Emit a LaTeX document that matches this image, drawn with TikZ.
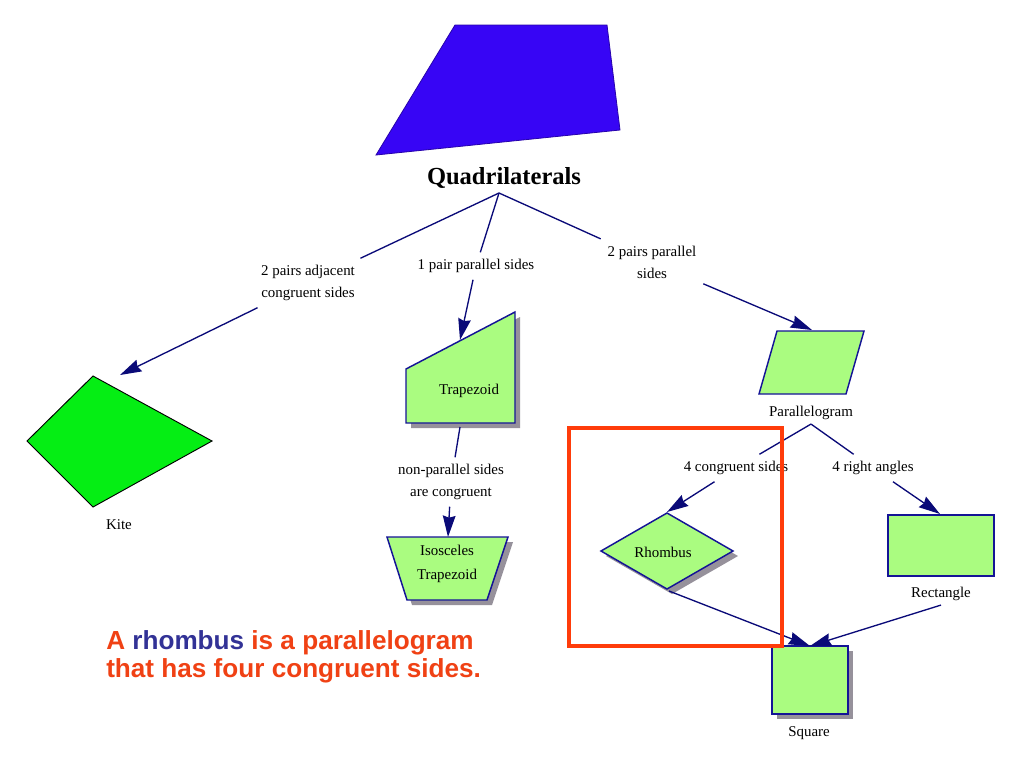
\documentclass[tikz,border=0pt]{standalone}
\usepackage{fontspec}
\setmainfont{Liberation Serif}
\newfontfamily\notefont{Liberation Sans}
\usetikzlibrary{arrows.meta}
\definecolor{navy}{RGB}{10,10,120}
\definecolor{shapeedge}{RGB}{20,20,150}
\definecolor{lightgreen}{RGB}{170,252,128}
\definecolor{kitegreen}{RGB}{5,238,20}
\definecolor{quadblue}{RGB}{55,5,245}
\definecolor{boxred}{RGB}{255,60,10}
\definecolor{notered}{RGB}{240,65,20}
\definecolor{noteblue}{RGB}{50,50,150}
\definecolor{shadowgray}{RGB}{150,145,155}
\begin{document}
\begin{tikzpicture}[x=0.75pt,y=-0.75pt,
  lbl/.style={font=\fontsize{11.2}{16.5}\selectfont, align=center, inner sep=5pt},
  namelbl/.style={font=\fontsize{11.2}{16.5}\selectfont, inner sep=3pt},
  conn/.style={draw=navy, line width=1pt},
  arr/.style={conn, -{Stealth[length=16pt,width=9.5pt,inset=1.5pt]}},
  shapebox/.style={fill=lightgreen, draw=shapeedge, line width=1.1pt, line join=miter},
  shadowbox/.style={fill=shadowgray, draw=none},
  notestyle/.style={font=\notefont\bfseries\fontsize{19.6}{22}\selectfont, text=notered, anchor=base west, inner sep=0pt}]

\fill[white] (0,0) rectangle (1024,768);
\useasboundingbox (0,0) rectangle (1024,768);

% big quadrilateral
\filldraw[fill=quadblue, draw=quadblue!70!black, line width=0.6pt] (455,25) -- (607,25) -- (620,130) -- (376,155) -- cycle;
\node[font=\bfseries\fontsize{18.4}{20}\selectfont, inner sep=1pt] (quad) at (504,178) {Quadrilaterals};
\coordinate (apex) at (499,193);

% kite
\filldraw[fill=kitegreen, draw=black, line width=0.7pt] (93,376) -- (212,441) -- (93,507) -- (27,441) -- cycle;
\node[namelbl] (kitelbl) at (119,525) {Kite};
\coordinate (kitetip) at (120,375);

% trapezoid
\fill[shadowbox] (411,374) -- (520,317) -- (520,428) -- (411,428) -- cycle;
\filldraw[shapebox] (406,369) -- (515,312) -- (515,423) -- (406,423) -- cycle;
\node[namelbl] (trap) at (469,391) {Trapezoid};
\coordinate (traptip) at (460,340);
\coordinate (trapbot) at (460,427);

% isosceles trapezoid
\fill[shadowbox] (392,542) -- (513,542) -- (492,605) -- (412,605) -- cycle;
\filldraw[shapebox] (387,537) -- (508,537) -- (487,600) -- (407,600) -- cycle;
\node[namelbl, align=center, font=\fontsize{11.2}{18.5}\selectfont] (iso) at (447,564) {Isosceles\\Trapezoid};
\coordinate (isotip) at (448,537);

% parallelogram
\filldraw[shapebox] (777,331) -- (864,331) -- (846,394) -- (759,394) -- cycle;
\node[namelbl] (plgm) at (811,413) {Parallelogram};
\coordinate (plgmtip) at (812,330);

% rhombus
\fill[shadowbox] (672,518) -- (738,556) -- (672,594) -- (606,556) -- cycle;
\filldraw[shapebox] (667,513) -- (733,551) -- (667,589) -- (601,551) -- cycle;
\node[namelbl] (rhomb) at (663,552) {Rhombus};
\coordinate (rhombtip) at (667,512);
\coordinate (rhombbot) at (669,591);

% rectangle
\filldraw[shapebox] (888,515) rectangle (994,576);
\node[namelbl] (rect) at (941,594) {Rectangle};
\coordinate (recttip) at (940,514);

% square
\fill[shadowbox] (777,651) rectangle (853,719);
\filldraw[shapebox] (772,646) rectangle (848,714);
\node[namelbl] (sq) at (809,733) {Square};
\coordinate (sqtip) at (810,646);

% edge labels
\node[lbl] (l1) at (308,283) {2 pairs adjacent\\congruent sides};
\node[lbl] (l2) at (476,266) {1 pair parallel sides};
\node[lbl] (l3) at (652,262) {2 pairs parallel\\sides};
\node[lbl] (l4) at (451,482) {non-parallel sides\\are congruent};
\node[lbl] (l5) at (736,468) {4 congruent sides};
\node[lbl] (l6) at (873,468) {4 right angles};

% connectors
\draw[conn] (apex) -- (l1);
\draw[arr] (l1) -- (kitetip);
\draw[conn] (apex) -- (l2);
\draw[arr] (l2) -- (traptip);
\draw[conn] (apex) -- (l3);
\draw[arr] (l3) -- (plgmtip);
\draw[conn] (trapbot) -- (l4);
\draw[arr] (l4) -- (isotip);
\draw[conn] (plgm.south) -- (l5);
\draw[arr] (l5) -- (rhombtip);
\draw[conn] (plgm.south) -- (l6);
\draw[arr] (l6) -- (recttip);
\draw[arr] (rhombbot) -- (sqtip);
\draw[arr] (rect.south) -- (sqtip);

% highlight box
\draw[boxred, line width=3.6pt] (569,428) rectangle (782,646);

% note
\node[notestyle] (note1) at (106,649) {A \textcolor{noteblue}{rhombus} is a parallelogram};
\node[notestyle] (note2) at (106,677) {that has four congruent sides.};
\end{tikzpicture}
\end{document}
